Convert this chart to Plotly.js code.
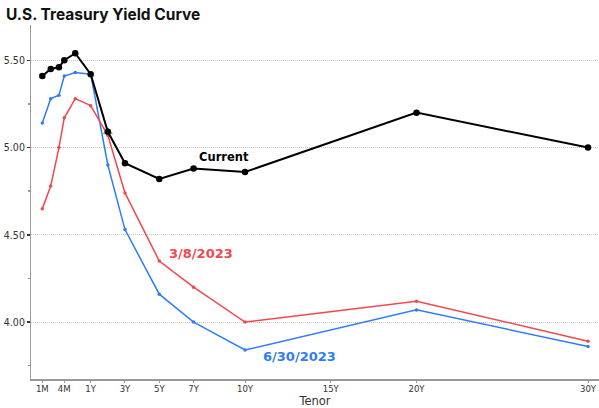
<!DOCTYPE html>
<html>
<head>
<meta charset="utf-8">
<script src="https://cdn.plot.ly/plotly-3.0.1.min.js"></script>
<style>
  html, body { margin: 0; padding: 0; background: #fff; }
  #chart { width: 599px; height: 408px; }
</style>
</head>
<body>
<div id="chart"></div>
<script>
// Tenors and their positions on the (stretched) tenor axis
const tenors   = ['1M','2M','3M','4M','6M','1Y','2Y','3Y','5Y','7Y','10Y','20Y','30Y'];
const tenorPos = [-1.82, -1.33, -0.85, -0.54, 0.1, 1, 2, 3, 5, 7, 10, 20, 30];

// Yield series (%)
const current = [5.41, 5.45, 5.46, 5.50, 5.54, 5.42, 5.09, 4.91, 4.82, 4.88, 4.86, 5.20, 5.00];
const mar8    = [4.65, 4.78, 5.00, 5.17, 5.28, 5.24, 5.07, 4.74, 4.35, 4.20, 4.00, 4.12, 3.89];
const jun30   = [5.14, 5.28, 5.30, 5.41, 5.43, 5.42, 4.90, 4.53, 4.16, 4.00, 3.84, 4.07, 3.86];

// Axis tick labels
const tickLabels = ['1M','4M','1Y','3Y','5Y','7Y','10Y','15Y','20Y','30Y'];
const tickPos    = [-1.82, -0.54, 1, 3, 5, 7, 10, 15, 20, 30];

const RED = '#f2474f';
const BLUE = '#2f7df6';

const traces = [
  {x: tenorPos, y: jun30, text: tenors, type: 'scatter', mode: 'lines+markers',
   line: {color: BLUE, width: 1.5}, marker: {color: BLUE, size: 3.5}, name: '6/30/2023'},
  {x: tenorPos, y: mar8, text: tenors, type: 'scatter', mode: 'lines+markers',
   line: {color: RED, width: 1.5}, marker: {color: RED, size: 3.5}, name: '3/8/2023'},
  {x: [tenorPos[6]], y: [current[6]], type: 'scatter', mode: 'markers',
   marker: {color: '#3ddc3d', size: 9, symbol: 'triangle-up'}, name: 'hl', hoverinfo: 'skip'},
  {x: tenorPos, y: current, text: tenors, type: 'scatter', mode: 'lines+markers',
   line: {color: '#000', width: 2}, marker: {color: '#000', size: 6.5}, name: 'Current'}
];

const layout = {
  width: 599, height: 408,
  margin: {l: 31, r: 0, t: 25, b: 29},
  paper_bgcolor: '#fff', plot_bgcolor: '#fff',
  showlegend: false,
  title: {
    text: '<b>U.S. Treasury Yield Curve</b>',
    font: {family: 'Inter, "Open Sans", sans-serif', size: 15.5, color: '#111'},
    x: 6/599, xanchor: 'left', xref: 'container',
    y: 1 - 15/408, yanchor: 'middle', yref: 'container'
  },
  xaxis: {
    range: [-2.48, 30.64],
    tickmode: 'array', tickvals: tickPos, ticktext: tickLabels,
    ticks: 'outside', ticklen: 2, tickcolor: '#999',
    ticklabelstandoff: -2,
    tickfont: {family: '"DejaVu Sans Condensed", "DejaVu Sans", sans-serif', size: 9.5, color: '#333'},
    showgrid: false, zeroline: false,
    showline: true, linecolor: '#999', linewidth: 2,
    title: {text: 'Tenor', font: {family: '"DejaVu Sans", sans-serif', size: 11.5, color: '#333'}, standoff: 7},
    fixedrange: true
  },
  yaxis: {
    range: [3.674, 5.702],
    tickvals: [4.0, 4.5, 5.0, 5.5], tickformat: '.2f',
    ticks: 'outside', ticklen: 3, tickwidth: 1.5, tickcolor: '#333',
    tickfont: {family: '"DejaVu Sans Condensed", "DejaVu Sans", sans-serif', size: 10.5, color: '#333'},
    showgrid: true, gridcolor: '#c8c8c8', griddash: '1px,1px', gridwidth: 1,
    minor: {tickvals: [3.75, 4.25, 4.75, 5.25], ticks: 'outside', ticklen: 2, tickcolor: '#999', showgrid: false},
    zeroline: false,
    showline: true, linecolor: '#999', linewidth: 1,
    fixedrange: true
  },
  annotations: [
    {x: 8.78, y: 4.946, xref: 'x', yref: 'y', text: '<b>Current</b>', showarrow: false,
     font: {family: '"DejaVu Sans", sans-serif', size: 11.5, color: '#000'}},
    {x: 7.45, y: 4.391, xref: 'x', yref: 'y', text: '<b>3/8/2023</b>', showarrow: false,
     font: {family: '"DejaVu Sans", sans-serif', size: 13, color: RED}},
    {x: 13.15, y: 3.802, xref: 'x', yref: 'y', text: '<b>6/30/2023</b>', showarrow: false,
     font: {family: '"DejaVu Sans", sans-serif', size: 13, color: BLUE}}
  ]
};

Plotly.newPlot('chart', traces, layout, {staticPlot: true, displayModeBar: false});
</script>
</body>
</html>
